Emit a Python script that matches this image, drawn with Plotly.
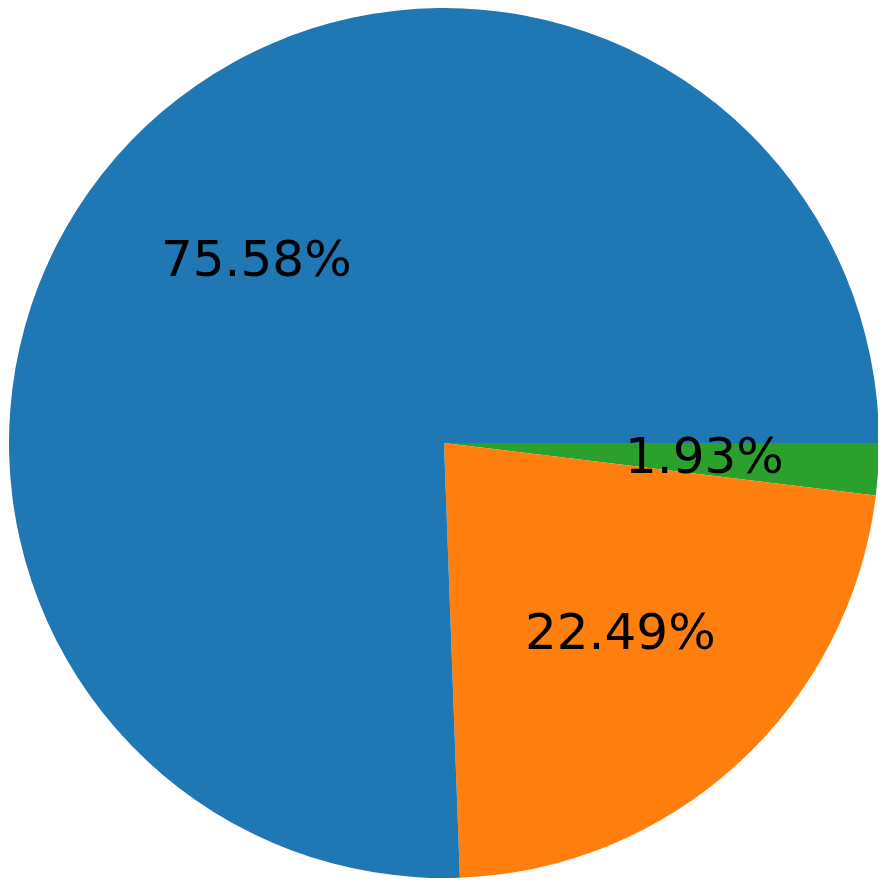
import math
import plotly.graph_objects as go

labels = ["A", "B", "C"]
values = [75.58, 22.49, 1.93]
colors = ["#1f77b4", "#ff7f0e", "#2ca02c"]

W, H = 886, 887
# pie geometry in figure pixels (page body has an 8px margin)
CX, CY, R = 436, 435, 435
fig = go.Figure(go.Pie(
    labels=labels[::-1], values=values[::-1], sort=False,
    direction="clockwise", rotation=90,
    marker=dict(colors=colors[::-1], line=dict(width=0)),
    textinfo="none",
    domain=dict(x=[(CX - R) / W, (CX + R) / W], y=[1 - (CY + R) / H, 1 - (CY - R) / H]),
    showlegend=False, hoverinfo="label+percent",
))

total = sum(values)
start = 0.0
annotations = []
for v in values:
    frac = v / total
    mid = math.radians((start + frac / 2) * 360)
    start += frac
    annotations.append(dict(
        x=(CX + 0.6 * R * math.cos(mid)) / W,
        y=1 - (CY - 0.6 * R * math.sin(mid)) / H,
        xref="paper", yref="paper", showarrow=False, yshift=3,
        text=f"{frac * 100:.2f}%", xanchor="center", yanchor="middle",
        font=dict(family="DejaVu Sans", size=50, color="black"),
    ))

fig.update_layout(width=W, height=H, margin=dict(l=0, r=0, t=0, b=0),
                  paper_bgcolor="white", plot_bgcolor="white",
                  annotations=annotations)
fig.write_html("out.html")
